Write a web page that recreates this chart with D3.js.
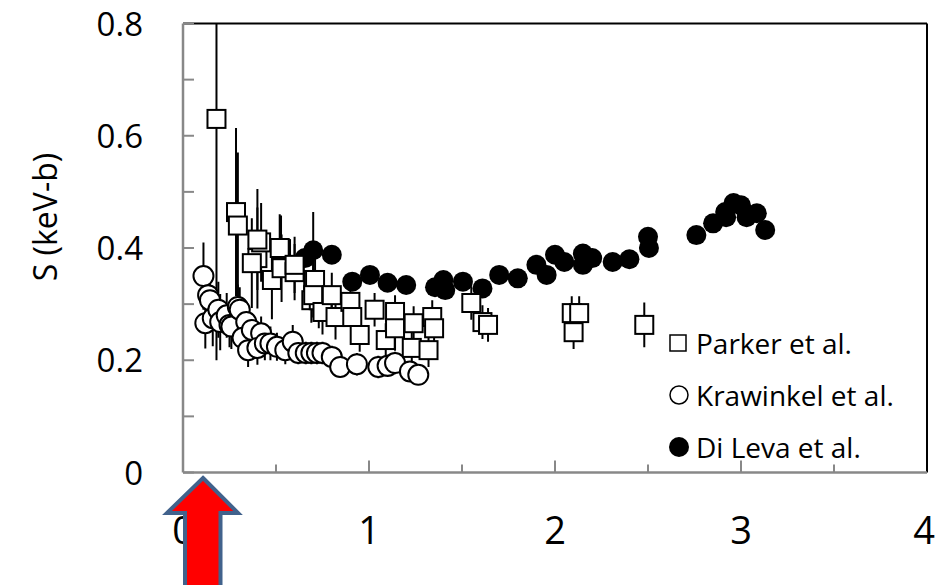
<!DOCTYPE html>
<meta charset="utf-8">
<html>
<head>
  <script src="https://d3js.org/d3.v7.min.js" charset="utf-8"></script>
</head>
<style>
* { margin: 0; padding: 0; }
body { background-color: white; }
text { font-family: "Open Sans", sans-serif; fill: black; }
</style>
<body>
<div id="container"></div>
<script type="text/javascript">

// Parker et al. (open squares)
var parkerE   = [0.18, 0.285, 0.295, 0.40, 0.37, 0.42, 0.40, 0.478, 0.527, 0.52, 0.53, 0.60, 0.60, 0.70, 0.69, 0.71, 0.73, 0.70, 0.75, 0.80, 0.82, 0.90, 0.91, 0.95, 1.03, 1.09, 1.14, 1.14, 1.24, 1.23, 1.34, 1.35, 1.32, 1.55, 1.61, 1.64, 2.09, 2.13, 2.10, 2.48]
var parkerS   = [0.63, 0.464, 0.44, 0.382, 0.373, 0.41, 0.415, 0.343, 0.398, 0.40, 0.364, 0.357, 0.37, 0.343, 0.307, 0.343, 0.307, 0.316, 0.286, 0.316, 0.277, 0.304, 0.277, 0.245, 0.29, 0.236, 0.286, 0.257, 0.266, 0.222, 0.277, 0.257, 0.218, 0.302, 0.268, 0.263, 0.284, 0.284, 0.25, 0.263]
var parkerErr = [0.43, 0.15, 0.13, 0.09, 0.08, 0.07, 0.09, 0.07, 0.06, 0.06, 0.06, 0.05, 0.05, 0.05, 0.04, 0.05, 0.05, 0.04, 0.04, 0.04, 0.04, 0.03, 0.04, 0.03, 0.03, 0.03, 0.03, 0.04, 0.03, 0.03, 0.03, 0.03, 0.03, 0.03, 0.03, 0.03, 0.03, 0.03, 0.03, 0.04]

// Krawinkel et al. (open circles)
var krawE   = [0.11, 0.12, 0.135, 0.145, 0.16, 0.19, 0.20, 0.235, 0.25, 0.26, 0.295, 0.305, 0.34, 0.32, 0.37, 0.35, 0.42, 0.40, 0.44, 0.47, 0.505, 0.55, 0.59, 0.62, 0.66, 0.69, 0.72, 0.75, 0.80, 0.845, 0.935, 1.05, 1.10, 1.14, 1.22, 1.265]
var krawS   = [0.35, 0.266, 0.316, 0.307, 0.275, 0.29, 0.268, 0.28, 0.263, 0.26, 0.295, 0.29, 0.268, 0.24, 0.254, 0.218, 0.248, 0.222, 0.23, 0.23, 0.224, 0.218, 0.233, 0.213, 0.213, 0.213, 0.213, 0.213, 0.206, 0.188, 0.193, 0.188, 0.19, 0.195, 0.18, 0.174]
var krawErr = [0.06, 0.045, 0.05, 0.05, 0.05, 0.05, 0.05, 0.04, 0.04, 0.04, 0.04, 0.04, 0.03, 0.03, 0.03, 0.03, 0.03, 0.03, 0.03, 0.03, 0.025, 0.025, 0.03, 0.02, 0.02, 0.02, 0.02, 0.02, 0.02, 0.015, 0.02, 0.02, 0.02, 0.02, 0.015, 0.015]

// Di Leva et al. (filled circles)
var dilevaE   = [0.655, 0.70, 0.80, 0.91, 1.005, 1.10, 1.20, 1.355, 1.40, 1.41, 1.505, 1.61, 1.70, 1.80, 1.90, 1.955, 2.00, 2.05, 2.15, 2.15, 2.20, 2.31, 2.40, 2.50, 2.505, 2.76, 2.85, 2.915, 2.92, 2.96, 3.00, 3.03, 3.085, 3.13]
var dilevaS   = [0.382, 0.396, 0.388, 0.34, 0.352, 0.338, 0.334, 0.33, 0.343, 0.325, 0.34, 0.328, 0.352, 0.346, 0.37, 0.352, 0.388, 0.375, 0.39, 0.37, 0.382, 0.375, 0.38, 0.42, 0.40, 0.423, 0.444, 0.464, 0.455, 0.48, 0.476, 0.455, 0.462, 0.432]
var dilevaErr = [0.015, 0.068, 0.015, 0.015, 0.015, 0.015, 0.015, 0.015, 0.015, 0.015, 0.015, 0.015, 0.015, 0.015, 0.015, 0.015, 0.015, 0.015, 0.015, 0.015, 0.015, 0.015, 0.015, 0.015, 0.015, 0.015, 0.015, 0.015, 0.015, 0.015, 0.015, 0.015, 0.015, 0.015]

var legendNames = ["Parker et al.", "Krawinkel et al.", "Di Leva et al."]
var xTicks = [0, 1, 2, 3, 4]
var yTicks = [0, 0.2, 0.4, 0.6, 0.8]

var width = 936
var height = 585
var plot = {left: 183, right: 927, top: 23.5, bottom: 472.5}
var axisGray = "#888888"

var x = d3.scaleLinear().domain([0, 4]).range([plot.left, plot.right])
var y = d3.scaleLinear().domain([0, 0.8]).range([plot.bottom, plot.top])

const svg = d3.select("#container")
              .append("svg")
              .attr("width", width)
              .attr("height", height)

svg.append("defs").append("clipPath").attr("id", "clip")
   .append("rect")
   .attr("x", plot.left).attr("y", plot.top)
   .attr("width", plot.right - plot.left).attr("height", plot.bottom - plot.top)

// frame: black top/right, gray axes
svg.append("line").attr("x1", plot.left).attr("x2", plot.right).attr("y1", plot.top).attr("y2", plot.top)
   .attr("stroke", "black").attr("stroke-width", 2)
svg.append("line").attr("x1", plot.right).attr("x2", plot.right).attr("y1", plot.top).attr("y2", plot.bottom)
   .attr("stroke", "black").attr("stroke-width", 2)

// y ticks (inward, every 0.1)
svg.selectAll(".ytick")
   .data(d3.range(0, 9).map(d => d / 10))
   .enter().append("line")
   .attr("x1", plot.left).attr("x2", plot.left + 11)
   .attr("y1", d => y(d)).attr("y2", d => y(d))
   .attr("stroke", axisGray).attr("stroke-width", 2)

// x ticks (inward, every 0.5)
svg.selectAll(".xtick")
   .data(d3.range(1, 8).map(d => d / 2))
   .enter().append("line")
   .attr("x1", d => x(d)).attr("x2", d => x(d))
   .attr("y1", plot.bottom).attr("y2", d => plot.bottom - (d % 1 === 0 ? 12 : 8))
   .attr("stroke", axisGray).attr("stroke-width", 2)

svg.append("line").attr("x1", plot.left).attr("x2", plot.left).attr("y1", plot.top).attr("y2", plot.bottom)
   .attr("stroke", axisGray).attr("stroke-width", 2.5)
svg.append("line").attr("x1", plot.left).attr("x2", plot.right).attr("y1", plot.bottom).attr("y2", plot.bottom)
   .attr("stroke", axisGray).attr("stroke-width", 2.5)

// tick labels
svg.selectAll(".ylabel")
   .data(yTicks)
   .enter().append("text")
   .attr("x", 143).attr("y", d => y(d) + 12)
   .attr("text-anchor", "end")
   .attr("font-size", "33px")
   .text(d => d === 0 ? "0" : d.toFixed(1))

svg.selectAll(".xlabel")
   .data(xTicks)
   .enter().append("text")
   .attr("x", d => d === 4 ? 935 : x(d)).attr("y", 544)
   .attr("text-anchor", d => d === 4 ? "end" : "middle")
   .attr("font-size", "38px")
   .text(d => d)

svg.append("text")
   .attr("transform", "translate(44, 217) rotate(-90)")
   .attr("text-anchor", "middle")
   .attr("dominant-baseline", "central")
   .attr("font-size", "32px")
   .text("S (keV-b)")

// data
var g = svg.append("g").attr("clip-path", "url(#clip)")

function series(E, S, Err) {
  return E.map((e, i) => ({e: e, s: S[i], err: Err[i]}))
}

function errorBars(data) {
  g.append("g").selectAll("line")
   .data(data)
   .enter().append("line")
   .attr("x1", d => x(d.e)).attr("x2", d => x(d.e))
   .attr("y1", d => y(d.s - d.err)).attr("y2", d => y(d.s + d.err))
   .attr("stroke", "black").attr("stroke-width", 2)
}

var dileva = series(dilevaE, dilevaS, dilevaErr)
var parker = series(parkerE, parkerS, parkerErr)
var kraw = series(krawE, krawS, krawErr)

errorBars(dileva)
g.append("g").selectAll("circle")
 .data(dileva)
 .enter().append("circle")
 .attr("cx", d => x(d.e)).attr("cy", d => y(d.s)).attr("r", 10)
 .attr("fill", "black")

errorBars(parker)
g.append("g").selectAll("rect")
 .data(parker)
 .enter().append("rect")
 .attr("x", d => x(d.e) - 9).attr("y", d => y(d.s) - 9)
 .attr("width", 18).attr("height", 18)
 .attr("fill", "white").attr("stroke", "black").attr("stroke-width", 2)

errorBars(kraw)
g.append("g").selectAll("circle")
 .data(kraw)
 .enter().append("circle")
 .attr("cx", d => x(d.e)).attr("cy", d => y(d.s)).attr("r", 10)
 .attr("fill", "white").attr("stroke", "black").attr("stroke-width", 2)

// legend
var legend = svg.append("g").attr("id", "legend")
var legendY = [343, 395, 447]

legend.append("rect")
      .attr("x", 670).attr("y", legendY[0] - 8).attr("width", 16).attr("height", 16)
      .attr("fill", "white").attr("stroke", "black").attr("stroke-width", 1.5)
legend.append("circle")
      .attr("cx", 679).attr("cy", legendY[1]).attr("r", 9)
      .attr("fill", "white").attr("stroke", "black").attr("stroke-width", 1.5)
legend.append("circle")
      .attr("cx", 679).attr("cy", legendY[2]).attr("r", 10)
      .attr("fill", "black")

legend.selectAll("text")
      .data(legendNames)
      .enter().append("text")
      .attr("x", 696).attr("y", (d, i) => legendY[i])
      .attr("dominant-baseline", "central")
      .attr("font-size", "28px")
      .text(d => d)

// red arrow pointing at the axis
var arrowPts = [[203, 478], [238, 513], [220.5, 513], [220.5, 600], [185, 600], [185, 513], [167, 513]]
svg.append("polygon")
   .attr("points", arrowPts.map(p => p.join(",")).join(" "))
   .attr("fill", "#ff0000")
   .attr("stroke", "#41628c")
   .attr("stroke-width", 4)
   .attr("stroke-linejoin", "miter")

</script>
</body>
</html>
